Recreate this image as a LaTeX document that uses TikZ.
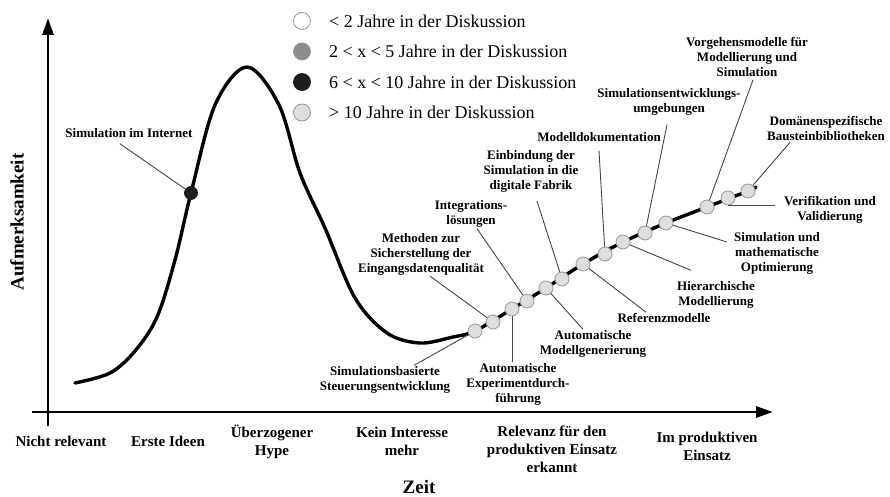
\documentclass[tikz,border=0pt]{standalone}
\usepackage{fontspec}
\setmainfont{Liberation Serif}
\usetikzlibrary{arrows.meta,positioning,calc}
\definecolor{TopicLight}{RGB}{222,222,222}
\definecolor{TopicMid}{RGB}{140,140,140}
\definecolor{TopicDark}{RGB}{30,30,30}
\definecolor{RimGray}{RGB}{150,150,150}
\definecolor{LeadGray}{RGB}{70,70,70}

\begin{document}
\begin{tikzpicture}[
  x=1pt, y=-1pt,
  >=Latex,
  axis/.style={-{Triangle[length=17pt,width=11pt]}, line width=2.8pt},
  hype/.style={line width=3.4pt, line cap=round},
  topic/.style={circle, draw=RimGray, line width=0.8pt, fill=TopicLight,
                inner sep=0pt, minimum size=14pt},
  lead/.style={draw=LeadGray, line width=0.9pt},
  lbl/.style={align=center, inner sep=1pt,
              font=\fontsize{13}{15}\selectfont\bfseries},
  phase/.style={align=center, inner sep=1pt,
                font=\fontsize{15}{18}\selectfont\bfseries},
  title/.style={inner sep=1pt, font=\fontsize{19}{22}\selectfont\bfseries},
  keydot/.style={circle, draw=RimGray, line width=0.8pt, inner sep=0pt,
                 minimum size=17pt},
  keytext/.style={inner sep=1pt, font=\fontsize{18}{21}\selectfont}
]
\useasboundingbox (0,0) rectangle (890,497);

% Axes.
\coordinate (xstart) at (32,412);
\coordinate (xend) at (773,412);
\coordinate (ybot) at (48,426);
\coordinate (yend) at (48,18);
\draw[axis] (xstart) -- (xend);
\draw[axis] (ybot) -- (yend);
\node[title, rotate=90] (ylab) at (17,222) {Aufmerksamkeit};
\node[title] (xlab) at (419,487) {Zeit};

% Phases along the time axis.
\node[phase] (p1) at (61,441) {Nicht relevant};
\node[phase] (p2) at (168,441) {Erste Ideen};
\node[phase] (p3) at (272,442) {Überzogener\\Hype};
\node[phase] (p4) at (402,441) {Kein Interesse\\mehr};
\node[phase] (p5) at (552,449) {Relevanz für den\\produktiven Einsatz\\erkannt};
\node[phase] (p6) at (707,446) {Im produktiven\\Einsatz};

% Legend.
\node[keydot, fill=white] (k1) at (302,21) {};
\node[keydot, fill=TopicMid, below=12.7pt of k1] (k2) {};
\node[keydot, fill=TopicDark, draw=TopicDark, below=12.7pt of k2] (k3) {};
\node[keydot, fill=TopicLight, below=12.7pt of k3] (k4) {};
\node[keytext, right=17pt of k1] (t1) {< 2 Jahre in der Diskussion};
\node[keytext, right=17pt of k2] (t2) {2 < x < 5 Jahre in der Diskussion};
\node[keytext, right=17pt of k3] (t3) {6 < x < 10 Jahre in der Diskussion};
\node[keytext, right=17pt of k4] (t4) {> 10 Jahre in der Diskussion};

% Hype curve.
\draw[hype] plot[smooth, tension=0.55] coordinates {
  (75,383) (110,373) (135,351) (157,317) (175,260) (191,193) (215,105)
  (247,67) (279,105) (300,173) (325,228) (355,298) (387,333) (420,343)
  (453,337) (475,331) (512,309) (546,288) (583,264) (623,242) (666,223)
  (707,207) (748,191) (756,187)};

% Topics on the curve.
\node[topic, fill=TopicDark, draw=TopicDark, minimum size=13pt] (dI) at (191,193) {};
\node[topic] (d1) at (475,331) {};
\node[topic] (d2) at (493,322) {};
\node[topic] (d3) at (512,309) {};
\node[topic] (d4) at (527,301) {};
\node[topic] (d5) at (546,288) {};
\node[topic] (d6) at (562,279) {};
\node[topic] (d7) at (583,264) {};
\node[topic] (d8) at (605,254) {};
\node[topic] (d9) at (623,242) {};
\node[topic] (d10) at (645,233) {};
\node[topic] (d11) at (666,223) {};
\node[topic] (d12) at (707,207) {};
\node[topic] (d13) at (728,198) {};
\node[topic] (d14) at (748,191) {};

% Topic labels.
\node[lbl] (Li) at (129,133) {Simulation im Internet};
\node[lbl] (L1) at (385,380) {Simulationsbasierte\\Steuerungsentwicklung};
\node[lbl] (L2) at (421,254) {Methoden zur\\Sicherstellung der\\Eingangsdatenqualität};
\node[lbl] (L3) at (518,384) {Automatische\\Experimentdurch-\\führung};
\node[lbl] (L4) at (471,214) {Integrations-\\lösungen};
\node[lbl] (L5) at (593,344) {Automatische\\Modellgenerierung};
\node[lbl] (L6) at (531,171) {Einbindung der\\Simulation in die\\digitale Fabrik};
\node[lbl] (L7) at (664,318) {Referenzmodelle};
\node[lbl] (L8) at (599,137) {Modelldokumentation};
\node[lbl] (L9) at (716,295) {Hierarchische\\Modellierung};
\node[lbl] (L10) at (669,102) {Simulationsentwicklungs-\\umgebungen};
\node[lbl] (L11) at (777,253) {Simulation und\\mathematische\\Optimierung};
\node[lbl] (L12) at (747,57) {Vorgehensmodelle für\\Modellierung und\\Simulation};
\node[lbl] (L13) at (830,210) {Verifikation und\\Validierung};
\node[lbl] (L14) at (826,129) {Domänenspezifische\\Bausteinbibliotheken};

% Leader lines.
\draw[lead] (dI) -- ([xshift=-9pt,yshift=-5pt]Li.south);
\draw[lead] (d1) -- ([xshift=29pt]L1.north);
\draw[lead] (d2) -- ([xshift=9pt]L2.south);
\draw[lead] (d3) -- (d3 |- L3.north);
\draw[lead] (d4) -- ([xshift=6pt]L4.south);
\draw[lead] (d5) -- ([xshift=-10pt]L5.north);
\draw[lead] (d6) -- ([xshift=6pt,yshift=-8pt]L6.south);
\draw[lead] (d7) -- ([xshift=-18pt]L7.north);
\draw[lead] (d8) -- ([yshift=-8pt]L8.south);
\draw[lead] (d9) -- ([xshift=-25pt,yshift=10pt]L9.north);
\draw[lead] (d10) -- ([xshift=-2pt,yshift=-8pt]L10.south);
\draw[lead] (d11) -- ([xshift=-6pt,yshift=11pt]L11.west);
\draw[lead] (d12) -- ([xshift=6pt,yshift=-2pt]L12.south);
\draw[lead] (d13.south) -- ($(d13.south -| L13.west)+(-8,0)$);
\draw[lead] (d14) -- ([xshift=-36pt]L14.south);

\end{tikzpicture}
\end{document}
